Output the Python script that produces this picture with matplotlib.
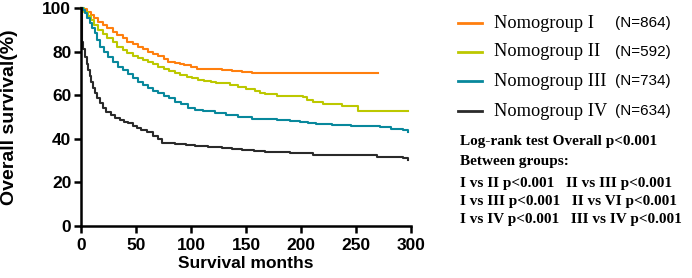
import matplotlib
matplotlib.use("Agg")
import matplotlib.pyplot as plt
from matplotlib.lines import Line2D

# Kaplan-Meier curves (months, survival %)
months_1 = [0, 2, 5, 9, 12, 15, 20, 24, 29, 33, 38, 42, 47, 52, 56, 61, 65, 70, 75, 79, 85, 90, 94, 100, 105,
            128, 137, 146, 155, 270]
surv_1 = [100, 99.4, 98.3, 96.8, 95.3, 93.7, 92.2, 90.7, 89.1, 87.6, 86.1, 84.6, 83.5, 82.3, 81.1, 80, 79, 78,
          76.5, 75.4, 74.8, 74.2, 73.9, 73, 72, 71.6, 71.1, 70.5, 70, 70]

months_2 = [0, 3, 6, 9, 12, 15, 20, 24, 29, 33, 38, 42, 47, 52, 56, 61, 65, 70, 75, 80, 85, 90, 96, 101, 106,
            112, 118, 123, 128, 135, 143, 150, 158, 163, 167, 178, 199, 202, 205, 211, 220, 228, 237, 252, 297]
surv_2 = [100, 98.3, 96.5, 94.5, 92.2, 89.9, 88, 86.1, 84.2, 82.3, 80.8, 79.2, 78, 76.9, 76.1, 75.4, 74.2, 73.1,
          72.2, 71.3, 70, 69.2, 68.5, 67.8, 67, 66.6, 66.2, 65.8, 65.5, 64.7, 63.9, 63, 62.1, 61.2, 60.6, 59.8,
          59.6, 59, 57.8, 57, 56, 55.8, 55, 52.8, 52.8]

months_3 = [0, 1.5, 3.3, 5.5, 7.9, 10, 12.4, 14.5, 17, 20.5, 24.5, 29, 33.6, 38, 42.7, 47, 51.8, 56, 61, 65.5,
            70, 75, 80, 85.5, 91, 97.5, 104, 111, 122, 132, 143, 155, 178, 190, 199, 206, 214, 228, 245, 260,
            272, 282, 293, 297]
surv_3 = [100, 99, 97.6, 95.3, 93, 90.7, 88.4, 85.3, 82.3, 80, 77.7, 75.4, 73.1, 71.4, 69.7, 67.9, 66.2, 64.7,
          63.2, 62, 60.9, 59.8, 58.9, 57, 55.8, 54, 53.3, 52.8, 51.7, 51, 50.1, 49.1, 48.8, 48.3, 47.8, 47.3,
          46.8, 46.3, 46, 45.8, 45.5, 44.5, 44, 43.3]

months_4 = [0, 0.5, 2, 3.3, 5, 6.4, 8, 9.4, 11, 12.4, 14.5, 17, 20, 23, 27, 30.6, 35, 39, 42.7, 47, 51, 54.8,
            60, 65, 70, 73.3, 80, 85.5, 95, 103.6, 115, 128, 137, 146, 157, 167, 178, 190, 199, 211, 245, 269,
            293, 297]
surv_4 = [100, 84.6, 81, 77.7, 74.5, 71.6, 68.9, 66.2, 63.5, 60.9, 58.5, 56.3, 54.3, 52.4, 50.8, 49.4, 48.5,
          47.7, 47.1, 45.8, 44.8, 44, 43, 41.5, 39.8, 38.2, 37.9, 37.6, 37.1, 36.7, 36.3, 35.9, 35.4, 34.9,
          34.5, 34.1, 33.8, 33.5, 33.3, 32.6, 32.6, 31.8, 31, 30.3]

group_names = ["Nomogroup I", "Nomogroup II", "Nomogroup III", "Nomogroup IV"]
group_n = ["(N=864)", "(N=592)", "(N=734)", "(N=634)"]
colors = ["#FF7F0E", "#BCC800", "#08889C", "#2A2A2A"]

stats_lines = [
    "Log-rank test Overall p<0.001",
    "Between groups:",
    "I vs II p<0.001   II vs III p<0.001",
    "I vs III p<0.001   II vs VI p<0.001",
    "I vs IV p<0.001   III vs IV p<0.001",
]

W, H = 692, 278
fig = plt.figure(figsize=(W / 100, H / 100), dpi=100)
ax = fig.add_axes([81 / W, 1 - 226 / H, 330 / W, 218 / H])

curves = [(months_1, surv_1), (months_2, surv_2), (months_3, surv_3), (months_4, surv_4)]
for (m, s), c in zip(curves, colors):
    ax.plot(m, s, drawstyle="steps-post", color=c, lw=1.5, clip_on=False)

ax.set_xlim(0, 300)
ax.set_ylim(0, 100)
ax.set_xticks(range(0, 301, 50))
ax.set_yticks(range(0, 101, 20))
for side in ("top", "right"):
    ax.spines[side].set_visible(False)
for side in ("left", "bottom"):
    ax.spines[side].set_linewidth(1.8)
ax.tick_params(width=1.8, length=5, direction="out")
ax.tick_params(axis="x", pad=4)
ax.tick_params(axis="y", pad=2)
for lbl in ax.get_xticklabels() + ax.get_yticklabels():
    lbl.set_fontfamily("Liberation Sans")
    lbl.set_fontweight("bold")
    lbl.set_fontsize(12.5)

ax.set_xlabel("Survival months", fontfamily="Liberation Sans", fontweight="bold", fontsize=12.5, labelpad=2)
ax.set_ylabel("Overall survival(%)", fontfamily="Liberation Sans", fontweight="bold", fontsize=14)
ax.yaxis.set_label_coords((18 - 81) / 330, 0.5)

# legend drawn by hand
row_y = [23, 52, 81, 111]
for y, name, n, c in zip(row_y, group_names, group_n, colors):
    fy = 1 - y / H
    fig.add_artist(Line2D([458 / W, 482 / W], [fy, fy], color=c, lw=2, transform=fig.transFigure))
    fig.text(494 / W, fy, name, fontfamily="Liberation Serif", fontsize=13.2, va="center", ha="left")
    fig.text(615 / W, fy, n, fontfamily="Liberation Sans", fontsize=11, va="center", ha="left")

stats_y = [142, 162, 183, 201, 219]
for y, t in zip(stats_y, stats_lines):
    fig.text(460 / W, 1 - y / H, t, fontfamily="Liberation Serif", fontweight="bold",
             fontsize=11, va="center", ha="left")

fig.savefig("out.png", dpi=100)
